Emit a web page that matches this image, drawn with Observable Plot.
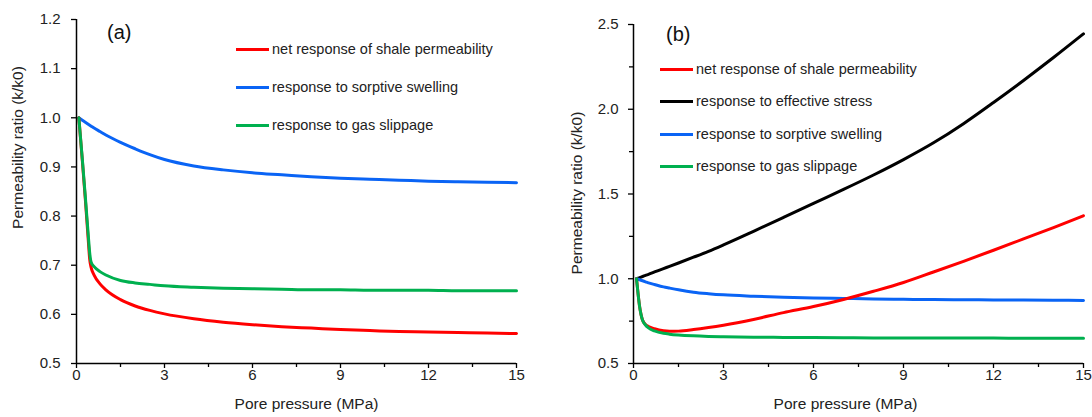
<!DOCTYPE html>
<html><head><meta charset="utf-8">
<script src="https://cdn.jsdelivr.net/npm/d3@7"></script>
<script src="https://cdn.jsdelivr.net/npm/@observablehq/plot@0.6"></script>
<style>
body{margin:0;background:#fff;font-family:"Liberation Sans",Arial,sans-serif;}
#wrap{position:relative;width:1092px;height:417px;overflow:hidden;}
.leg{position:absolute;height:18px;display:flex;align-items:center;font-size:14.5px;color:#222;white-space:nowrap;line-height:18px;}
.leg .sw{display:inline-block;width:33px;height:3px;margin-right:3px;}
.tag{position:absolute;font-size:20px;line-height:20px;color:#111;}
svg{position:absolute;top:0;}
</style></head><body><div id="wrap"></div>
<script>
// ---------- Panel (a) data ----------
const pressureA = [0.08,0.2,0.3,0.4,0.45,0.5,0.6,0.8,1,1.5,2,2.5,3,4,5,6,7,8,9,10,11,12,13,14,15];
const netA      = [1.0,0.912,0.835,0.752,0.712,0.695,0.68,0.662,0.65,0.63,0.617,0.608,0.601,0.591,0.584,0.579,0.575,0.572,0.569,0.567,0.565,0.564,0.563,0.562,0.561];
const swellA    = [1.0,0.995,0.991,0.987,0.985,0.983,0.979,0.972,0.965,0.95,0.937,0.925,0.915,0.902,0.894,0.888,0.884,0.88,0.877,0.875,0.873,0.871,0.87,0.869,0.868];
const slipA     = [1.0,0.915,0.84,0.762,0.725,0.706,0.697,0.687,0.68,0.669,0.664,0.661,0.658,0.655,0.653,0.652,0.651,0.65,0.65,0.649,0.649,0.649,0.648,0.648,0.648];

// ---------- Panel (b) data ----------
const pressureB = [0.1,0.15,0.2,0.25,0.3,0.4,0.5,0.7,1,1.2,1.5,2,2.5,3,4,5,6,7,8,9,10,11,12,13,14,15];
const netB      = [1.0,0.915,0.84,0.79,0.757,0.73,0.718,0.705,0.693,0.69,0.691,0.7,0.712,0.726,0.76,0.8,0.836,0.878,0.926,0.978,1.04,1.103,1.168,1.235,1.302,1.372];
const stressB   = [1.0,1.003,1.006,1.01,1.013,1.02,1.026,1.04,1.06,1.073,1.093,1.127,1.162,1.2,1.28,1.362,1.445,1.527,1.612,1.703,1.802,1.915,2.04,2.17,2.305,2.445];
const swellB    = [1.0,0.997,0.994,0.991,0.988,0.982,0.976,0.966,0.952,0.945,0.935,0.921,0.912,0.905,0.897,0.891,0.887,0.884,0.881,0.879,0.877,0.876,0.875,0.874,0.873,0.872];
const slipB     = [1.0,0.915,0.84,0.79,0.757,0.727,0.71,0.692,0.678,0.673,0.668,0.663,0.66,0.658,0.655,0.654,0.653,0.652,0.651,0.651,0.65,0.65,0.65,0.649,0.649,0.649];

// ---------- ticks & labels ----------
const xTicks = [0,3,6,9,12,15];
const xMinor = [1.5,4.5,7.5,10.5,13.5];
const yTicksA = [0.5,0.6,0.7,0.8,0.9,1.0,1.1,1.2];
const yTicksB = [0.5,1.0,1.5,2.0,2.5];
const yMinorB = [0.75,1.25,1.75,2.25];
const xLabel = "Pore pressure (MPa)";
const yLabel = "Permeability ratio (k/k0)";
const namesA = ["net response of shale permeability","response to sorptive swelling","response to gas slippage"];
const namesB = ["net response of shale permeability","response to effective stress","response to sorptive swelling","response to gas slippage"];
const C = {net:"#ff0000", stress:"#000000", swell:"#0a64f5", slip:"#00b04f"};

function rows(xs, ys){ return xs.map((x,i)=>({x, y:ys[i]})); }

function makePanel(cfg){
  const marks = [];
  for (const s of cfg.series) {
    marks.push(Plot.line(rows(cfg.xs, s.values), {x:"x", y:"y", stroke:s.color, strokeWidth:3, curve:"monotone-x"}));
  }
  marks.push(Plot.ruleX([0], {stroke:"#000", strokeWidth:1.5}));
  marks.push(Plot.ruleY([cfg.yDomain[0]], {stroke:"#000", strokeWidth:1.5}));
  marks.push(Plot.axisX(xTicks, {tickSize:5, tickPadding:1, tickFormat:d=>String(d), label:null, fontSize:15, fill:"#222", strokeWidth:1.3}));
  marks.push(Plot.axisX(xMinor, {tickSize:4, tickFormat:()=>"", label:null, strokeWidth:1.3}));
  marks.push(Plot.axisY(cfg.yTicks, {tickSize:5, tickPadding:cfg.yPad, tickFormat:d3.format(".1f"), label:null, fontSize:15, fill:"#222", strokeWidth:1.3}));
  if (cfg.yMinor) marks.push(Plot.axisY(cfg.yMinor, {tickSize:4, tickFormat:()=>"", label:null, strokeWidth:1.3}));
  marks.push(Plot.text([xLabel], {frameAnchor:"bottom", textAnchor:"middle", dy:45, dx:cfg.xlDx, fontSize:15.5, fill:"#222"}));
  marks.push(Plot.text([yLabel], {frameAnchor:"left", textAnchor:"middle", rotate:-90, dx:cfg.ylDx, dy:cfg.ylDy, fontSize:15.5, fill:"#222"}));
  const svg = Plot.plot({
    width:546, height:417,
    marginLeft:cfg.ml, marginRight:cfg.mr, marginTop:cfg.mt, marginBottom:54,
    x:{domain:[0,15]}, y:{domain:cfg.yDomain},
    style:{fontFamily:"'Liberation Sans', Arial, sans-serif", fontSize:"15px", background:"transparent", overflow:"visible"},
    marks
  });
  svg.style.left = cfg.left + "px";
  return svg;
}

const wrap = document.getElementById("wrap");
wrap.appendChild(makePanel({
  left:0, xs:pressureA, yDomain:[0.5,1.2], yTicks:yTicksA, yPad:11,
  ml:76, mr:30, mt:19, xlDx:10, ylDx:-58, ylDy:-44,
  series:[{values:swellA,color:C.swell},{values:netA,color:C.net},{values:slipA,color:C.slip}]
}));
wrap.appendChild(makePanel({
  left:546, xs:pressureB, yDomain:[0.5,2.5], yTicks:yTicksB, yMinor:yMinorB, yPad:10,
  ml:87, mr:9, mt:24, xlDx:-13, ylDx:-56, ylDy:-1,
  series:[{values:stressB,color:C.stress},{values:swellB,color:C.swell},{values:netB,color:C.net},{values:slipB,color:C.slip}]
}));

function legend(names, colors, left, tops){
  names.forEach((n,i)=>{
    const d = document.createElement("div");
    d.className = "leg";
    d.style.left = left + "px";
    d.style.top = (tops[i] - 9) + "px";
    const sw = document.createElement("span");
    sw.className = "sw"; sw.style.background = colors[i];
    d.appendChild(sw);
    d.appendChild(document.createTextNode(n));
    wrap.appendChild(d);
  });
}
legend(namesA, [C.net, C.swell, C.slip], 236, [49, 87, 125]);
legend(namesB, [C.net, C.stress, C.swell, C.slip], 660, [69, 101, 134, 166]);

function tag(t, left, top){
  const d = document.createElement("div");
  d.className = "tag"; d.textContent = t;
  d.style.left = left + "px"; d.style.top = top + "px";
  wrap.appendChild(d);
}
tag("(a)", 107, 22);
tag("(b)", 666, 24);
</script></body></html>
